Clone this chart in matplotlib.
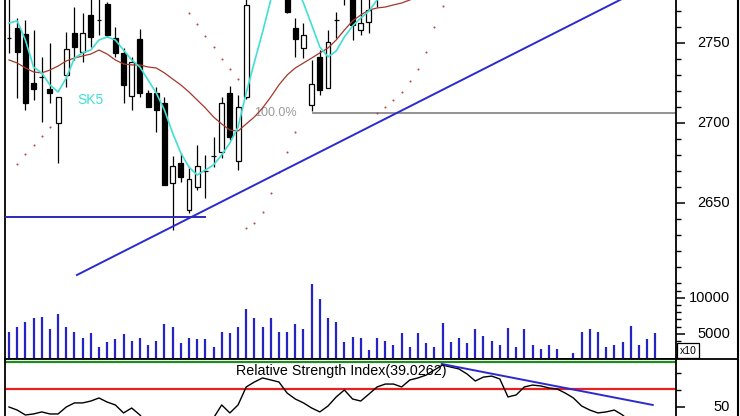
import numpy as np
import matplotlib
matplotlib.use("Agg")
import matplotlib.pyplot as plt
from matplotlib.lines import Line2D
from matplotlib.patches import Rectangle

plt.rcParams['font.family'] = ['Liberation Sans', 'DejaVu Sans']

# ---- daily bars (price window) ----
opens = [2753.1, 2759.4, 2755.6, 2725.0, 2728.8, 2721.3, 2700.0, 2730.0, 2756.3, 2744.4,
         2767.5, 2764.4, 2774.4, 2753.1, 2743.8, 2716.9, 2752.5, 2718.8, 2718.8, 2712.5,
         2662.5, 2675.0, 2645.6, 2660.0, 2670.0, 2679.4, 2681.9, 2718.8, 2676.3, 2716.3,
         2779.0, 2787.0, 2795.0, 2790.0, 2784.0, 2759.4, 2746.9, 2711.3, 2741.3, 2721.9,
         2764.4, 2784.0, 2778.1, 2758.1, 2763.1, 2779.0]
highs = [2780.0, 2765.6, 2764.4, 2758.1, 2741.3, 2750.0, 2716.3, 2756.9, 2772.5, 2768.8,
         2778.8, 2778.8, 2775.6, 2760.0, 2746.9, 2741.3, 2758.8, 2720.6, 2722.5, 2716.3,
         2679.4, 2681.3, 2671.9, 2686.3, 2680.0, 2691.3, 2716.3, 2723.1, 2717.5, 2780.0,
         2790.0, 2798.0, 2802.0, 2797.0, 2788.0, 2765.6, 2762.5, 2739.4, 2745.6, 2758.1,
         2769.4, 2787.0, 2782.0, 2780.0, 2780.0, 2788.0]
lows = [2743.8, 2715.6, 2708.1, 2714.4, 2700.6, 2712.5, 2675.0, 2722.5, 2739.4, 2738.1,
        2747.5, 2755.0, 2753.8, 2741.3, 2712.5, 2708.1, 2716.3, 2710.0, 2694.4, 2661.3,
        2633.1, 2663.1, 2643.8, 2658.1, 2653.1, 2672.5, 2678.1, 2689.4, 2670.6, 2715.0,
        2777.5, 2782.0, 2786.0, 2780.0, 2768.8, 2741.3, 2740.6, 2707.5, 2717.5, 2721.9,
        2753.1, 2773.8, 2751.9, 2755.0, 2756.3, 2772.5]
closes = [2753.1, 2744.4, 2712.5, 2721.3, 2728.8, 2718.8, 2716.3, 2746.3, 2747.5, 2756.3,
          2753.8, 2764.4, 2755.0, 2743.8, 2723.8, 2738.1, 2718.8, 2710.0, 2708.1, 2661.3,
          2673.1, 2666.3, 2665.0, 2673.1, 2670.0, 2679.4, 2712.5, 2691.3, 2710.0, 2773.8,
          2787.0, 2795.0, 2790.0, 2785.0, 2769.4, 2752.5, 2755.0, 2724.4, 2720.6, 2750.6,
          2764.4, 2779.0, 2761.3, 2762.5, 2770.6, 2784.0]

# short smoothed average (SK5)
sk5 = [2762.5, 2763.8, 2751.9, 2735.0, 2731.3, 2723.8, 2719.4, 2728.1, 2740.6, 2743.8,
       2745.6, 2751.9, 2753.8, 2751.9, 2745.6, 2739.4, 2735.0, 2726.9, 2718.8, 2708.1,
       2693.8, 2681.3, 2672.5, 2667.5, 2670.6, 2673.8, 2680.0, 2687.5, 2697.5, 2718.8,
       2738.1, 2756.9, 2776.9, 2790.0, 2792.0, 2786.0, 2775.0, 2761.3, 2747.5, 2741.3,
       2745.0, 2753.8, 2760.6, 2765.6, 2770.0, 2776.9, 2783.0]

# longer moving average
ma_long = [2739.4, 2737.5, 2734.4, 2731.9, 2731.3, 2733.1, 2735.6, 2738.8, 2740.6, 2741.9,
           2743.1, 2745.6, 2743.1, 2739.4, 2736.9, 2736.3, 2736.3, 2735.0, 2734.4, 2731.3,
           2727.5, 2723.8, 2719.4, 2714.4, 2709.4, 2703.8, 2699.4, 2695.6, 2695.0, 2699.4,
           2703.8, 2709.4, 2716.3, 2723.8, 2730.0, 2734.4, 2737.5, 2740.6, 2743.8, 2746.9,
           2751.9, 2758.1, 2763.8, 2767.5, 2770.6, 2771.9, 2772.5, 2773.8, 2775.0, 2776.9,
           2779.0, 2781.0]

# parabolic SAR stops
sar_idx = [1, 2, 3, 4, 5,
           22, 23, 24, 25, 26, 27, 28,
           29, 30, 31, 32, 33, 34, 35,
           45, 46, 47, 48, 49, 50, 51, 52, 53]
sar_val = [2674.4, 2680.6, 2686.3, 2691.9, 2697.5,
           2768.8, 2761.9, 2754.4, 2747.5, 2740.0, 2733.8, 2727.5,
           2634.4, 2637.5, 2644.4, 2656.3, 2669.4, 2681.9, 2694.4,
           2706.3, 2710.0, 2714.4, 2719.4, 2726.3, 2733.8, 2744.4, 2760.0, 2773.1]

# volume (x10)
volume = [5300, 6000, 6700, 7200, 7400, 5700, 7800, 6000, 5300, 4400,
          5100, 3100, 3900, 4300, 5000, 4000, 4400, 3500, 4000, 6400,
          6000, 3750, 4400, 4300, 4300, 3100, 5300, 5100, 6000, 8500,
          7200, 6000, 7200, 5300, 5300, 6400, 5700, 11900, 9900, 7200,
          6700, 3900, 4600, 4400, 2800, 4400, 4000, 3500, 5100, 3100,
          5100, 3750, 3200, 6500, 3900, 4400, 3750, 5700, 4700, 4000,
          3500, 5800, 3200, 5700, 3500, 2900, 3500, 2900, 0, 2400,
          5300, 5700, 5300, 3100, 3500, 3900, 6100, 3500, 4300, 5100]

# relative strength index
rsi = [50.0, 48.2, 45.3, 45.9, 47.1, 45.9, 45.9, 50.0, 52.4, 52.4,
       53.5, 55.3, 52.9, 51.2, 46.5, 49.4, 45.3, 39.4, 36.5, 30.6,
       31.8, 33.5, 34.7, 36.5, 39.4, 43.5, 51.2, 46.5, 51.2, 61.8,
       64.7, 67.1, 65.9, 64.7, 58.2, 54.7, 52.4, 49.4, 47.1, 50.6,
       55.9, 60.0, 54.7, 53.5, 57.6, 61.8, 63.5, 63.5, 61.8, 65.9,
       67.1, 68.8, 71.8, 74.7, 73.5, 72.4, 69.4, 65.3, 67.6, 68.2,
       66.5, 55.9, 57.1, 61.8, 62.9, 62.4, 61.2, 60.6, 58.2, 55.3,
       50.6, 48.2, 46.5, 47.1, 48.2, 45.3, 41.2, 38.0, 37.2, 39.0262]
rsi_last = 39.0262

# drawn studies
trend_x = [8.3, 76.0]
trend_y = [2605.0, 2780.3]
support_x = [-0.49, 23.96]
support_y = [2641.3, 2641.3]
fib_start = 37.2
fib_level = 2706.3
rsi_trend_x = [52.9, 78.7]
rsi_trend_y = [75.3, 51.2]
rsi_upper = 76.5
rsi_mid = 60.8

price_ticks = [2650, 2700, 2750]
vol_ticks = [5000, 10000]
rsi_ticks = [50]

# ---- layout in pixels ----
W, H = 740, 416
def fx(p):
    return p / W
def fy(p):
    return 1 - p / H

fig = plt.figure(figsize=(7.4, 4.16), dpi=100)
left_px, right_px, sep_px = 5, 676, 359
rect_w = fx(right_px) - fx(left_px)
XLIM = (-0.49, 81.54)
PRICE_LIM = (2552.5, 2776.875)
VOL_LIM = (1500, 1500 + 359 * 138.9)
RSI_LIM = (44.7, 78.24)

ax_p = fig.add_axes([fx(left_px), fy(sep_px), rect_w, fy(0) - fy(sep_px)])
ax_v = fig.add_axes([fx(left_px), fy(sep_px), rect_w, fy(0) - fy(sep_px)])
ax_r = fig.add_axes([fx(left_px), 0, rect_w, fy(sep_px)])
ax_v.patch.set_visible(False)

spine_lw = 1.3
for ax in (ax_p, ax_v, ax_r):
    ax.set_xlim(*XLIM)
    ax.set_xticks([])
    ax.yaxis.tick_right()
    for s in ax.spines.values():
        s.set_visible(False)
        s.set_linewidth(spine_lw)
    ax.tick_params(axis='y', which='major', length=6.5, width=1.1, direction='out',
                   labelright=False, labelleft=False)
    ax.tick_params(axis='y', which='minor', length=3.6, width=1.0, direction='out')

for ax in (ax_p, ax_r):
    ax.spines['left'].set_visible(True)
    ax.spines['right'].set_visible(True)
ax_p.spines['bottom'].set_visible(True)

# ---- price panel ----
ax_p.set_ylim(*PRICE_LIM)
x = np.arange(len(opens))
o = np.array(opens); c = np.array(closes)
ax_p.vlines(x, lows, highs, color='black', lw=0.9, zorder=3)
bottoms = np.minimum(o, c)
heights = np.abs(c - o)
face = ['white' if cc >= oo else 'black' for oo, cc in zip(o, c)]
ax_p.bar(x, heights, bottom=bottoms, width=0.6, color=face, edgecolor='black',
         linewidth=0.9, zorder=4)

ax_p.plot(np.arange(len(ma_long)), ma_long, color='#a2382a', lw=0.9, zorder=5)
ax_p.plot(np.arange(len(sk5)), sk5, color='#40e0d4', lw=1.2, zorder=6)
ax_p.scatter(sar_idx, sar_val, s=2.2, color='#b44848', linewidths=0, zorder=5)

ax_p.plot(trend_x, trend_y, color='#2a2ad0', lw=1.4, zorder=6)
ax_p.plot(support_x, support_y, color='#2a2ab8', lw=1.4, zorder=6)
ax_p.plot([fib_start, XLIM[1]], [fib_level, fib_level], color='#8a8a8a', lw=1.3, zorder=2)
ax_p.text(35.2, fib_level, '100.0%', ha='right', va='center', color='#9a9a9a', fontsize=9)
ax_p.text(8.4, 2714.4, 'SK5', ha='left', va='center', color='#40e0d4', fontsize=10)

ax_p.set_yticks(price_ticks)
ax_p.set_yticks(np.arange(2610, 2771, 10), minor=True)

# ---- volume ----
ax_v.set_ylim(*VOL_LIM)
ax_v.vlines(np.arange(len(volume)), VOL_LIM[0], volume, color='#2424c4', lw=1.6)
ax_v.set_yticks(vol_ticks)
ax_v.set_yticks([2000, 3000, 4000, 6000, 7000, 8000, 9000, 11000, 12000], minor=True)

# ---- RSI ----
ax_r.set_ylim(*RSI_LIM)
ax_r.axhline(rsi_upper, color='#1e8c1e', lw=1.6)
ax_r.axhline(rsi_mid, color='#e82020', lw=1.6)
ax_r.plot(np.arange(len(rsi)), rsi, color='black', lw=1.0)
ax_r.plot(rsi_trend_x, rsi_trend_y, color='#2a2ad0', lw=1.4)
ax_r.set_yticks(rsi_ticks)
ax_r.set_yticks([60, 70], minor=True)
fig.text(fx(341), fy(371), 'Relative Strength Index(%.4f)' % rsi_last,
         ha='center', va='center', fontsize=10.3, color='black')

# right-hand labels, right aligned
lab_x = (730 - left_px) / (right_px - left_px)
for ax, ticks in ((ax_p, price_ticks), (ax_v, vol_ticks), (ax_r, rsi_ticks)):
    for t in ticks:
        ax.text(lab_x, t, str(t), transform=ax.get_yaxis_transform(),
                ha='right', va='center', fontsize=10.5, clip_on=False)

# unit box
fig.add_artist(Rectangle((fx(677), fy(358)), fx(22), 15 / H, transform=fig.transFigure,
                         facecolor='white', edgecolor='black', lw=0.9))
fig.text(fx(688), fy(350.5), 'x10', ha='center', va='center', fontsize=7.5)

# panel separator and outer frame
fig.add_artist(Line2D([fx(left_px), fx(737)], [fy(sep_px), fy(sep_px)],
                      transform=fig.transFigure, color='black', lw=1.3))
fig.add_artist(Line2D([fx(737.5), fx(737.5)], [0, 1], transform=fig.transFigure,
                      color='black', lw=1.5))

fig.savefig('out.png', dpi=100)
